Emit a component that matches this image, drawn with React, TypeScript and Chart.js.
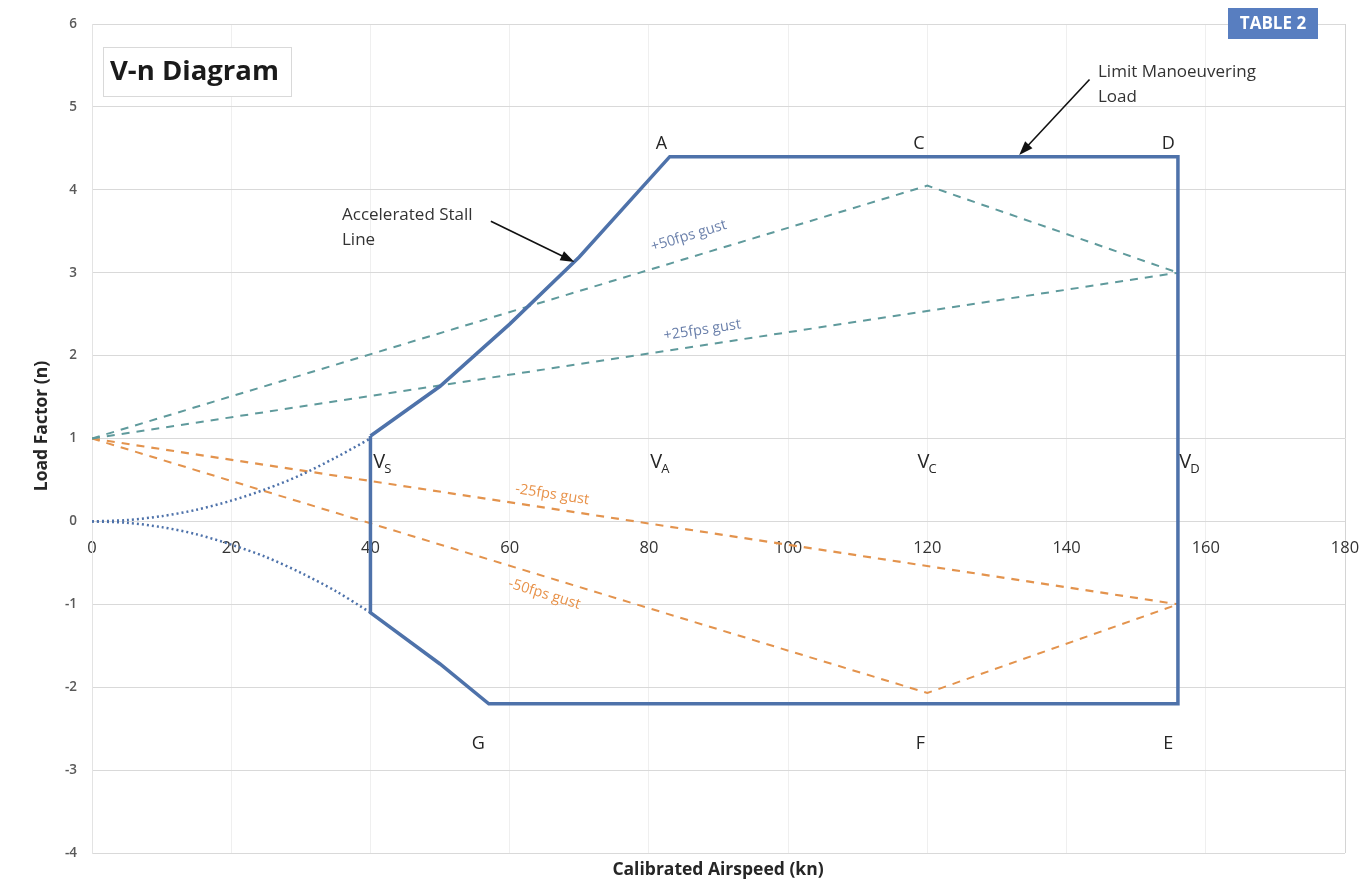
import React, { useEffect, useRef } from "react";
import { Chart, registerables } from "chart.js";

Chart.register(...registerables);

// ---- Axis ticks ----
const xTickValues = [0, 20, 40, 60, 80, 100, 120, 140, 160, 180];
const yTickValues = [-4, -3, -2, -1, 0, 1, 2, 3, 4, 5, 6];

// ---- Flight envelope (solid) ----
const envelopeV = [40, 50, 60, 70, 83, 156, 156, 57, 50, 40, 40];
const envelopeN = [1.03, 1.63, 2.38, 3.19, 4.4, 4.4, -2.2, -2.2, -1.72, -1.1, 1.03];

// ---- Stall curves below Vs (dotted) ----
const stallV = [0, 5, 10, 15, 20, 25, 30, 35, 40];
const stallPosN = [0, 0.016, 0.063, 0.14, 0.25, 0.39, 0.56, 0.77, 1.0];
const stallNegN = [0, -0.017, -0.069, -0.155, -0.28, -0.43, -0.62, -0.84, -1.1];

// ---- Gust lines (dashed) ----
const plus50V = [0, 120, 156];
const plus50N = [1, 4.05, 3.0];
const plus25V = [0, 156];
const plus25N = [1, 3.0];
const minus25V = [0, 156];
const minus25N = [1, -1.0];
const minus50V = [0, 120, 156];
const minus50N = [1, -2.07, -1.0];

// ---- Point letters ----
const letterText = ["A", "C", "D", "G", "F", "E"];
const letterV = [81.8, 118.8, 154.6, 55.5, 119.0, 154.6];
const letterN = [4.56, 4.56, 4.56, -2.68, -2.68, -2.68];

// ---- Speed labels ----
const speedSub = ["S", "A", "C", "D"];
const speedV = [40.4, 80.2, 118.6, 156.2];

const ENVELOPE_COLOR = "#4e72aa";
const GUST_POS_COLOR = "#5f9a9c";
const GUST_NEG_COLOR = "#e3934d";

const pts = (xs: number[], ys: number[]) => xs.map((v, i) => ({ x: v, y: ys[i] }));

const FONT = "'Open Sans', 'Liberation Sans', sans-serif";

export default function App() {
  const ref = useRef<HTMLCanvasElement | null>(null);

  useEffect(() => {
    if (!ref.current) return;

    const overlay = {
      id: "overlay",
      beforeDraw(chart: any) {
        const { ctx } = chart;
        ctx.save();
        ctx.fillStyle = "#ffffff";
        ctx.fillRect(0, 0, chart.width, chart.height);
        ctx.restore();
      },
      afterDraw(chart: any) {
        const { ctx } = chart;
        const xs = chart.scales.x;
        const ys = chart.scales.y;
        const px = (v: number) => xs.getPixelForValue(v);
        const py = (n: number) => ys.getPixelForValue(n);
        ctx.save();

        // gust labels along lines
        const along = (
          text: string,
          v0: number, n0: number, v1: number, n1: number,
          atV: number, offset: number, color: string
        ) => {
          const x0 = px(v0), y0 = py(n0), x1 = px(v1), y1 = py(n1);
          const ang = Math.atan2(y1 - y0, x1 - x0);
          const t = (atV - v0) / (v1 - v0);
          const cx = x0 + (x1 - x0) * t;
          const cy = y0 + (y1 - y0) * t;
          ctx.save();
          ctx.translate(cx, cy);
          ctx.rotate(ang);
          ctx.font = `14.5px ${FONT}`;
          ctx.fillStyle = color;
          ctx.textAlign = "center";
          ctx.textBaseline = "middle";
          ctx.fillText(text, 0, offset);
          ctx.restore();
        };
        along("+50fps gust", 0, 1, 120, 4.05, 86.6, -21, "#6b80ab");
        along("+25fps gust", 0, 1, 156, 3.0, 88.0, -15, "#6b80ab");
        along("-25fps gust", 0, 1, 156, -1.0, 65.8, -14, "#e8924a");
        along("-50fps gust", 0, 1, 120, -2.07, 65.7, 17, "#e8924a");

        // point letters
        ctx.font = `18px ${FONT}`;
        ctx.fillStyle = "#262626";
        ctx.textAlign = "center";
        ctx.textBaseline = "middle";
        letterText.forEach((t, i) => ctx.fillText(t, px(letterV[i]), py(letterN[i])));

        // speed labels V with subscripts
        speedSub.forEach((s, i) => {
          const x0 = px(speedV[i]);
          const y0 = py(0.71);
          ctx.font = `20px ${FONT}`;
          ctx.textAlign = "left";
          ctx.fillStyle = "#262626";
          ctx.fillText("V", x0, y0);
          const w = ctx.measureText("V").width;
          ctx.font = `13px ${FONT}`;
          ctx.fillText(s, x0 + w - 1, y0 + 7);
        });

        // arrows + annotations
        const arrow = (v0: number, n0: number, v1: number, n1: number) => {
          const x0 = px(v0), y0 = py(n0), x1 = px(v1), y1 = py(n1);
          const ang = Math.atan2(y1 - y0, x1 - x0);
          const L = 14, W = 5;
          ctx.strokeStyle = "#111";
          ctx.fillStyle = "#111";
          ctx.lineWidth = 1.6;
          ctx.beginPath();
          ctx.moveTo(x0, y0);
          ctx.lineTo(x1 - Math.cos(ang) * L * 0.8, y1 - Math.sin(ang) * L * 0.8);
          ctx.stroke();
          ctx.beginPath();
          ctx.moveTo(x1, y1);
          ctx.lineTo(x1 - Math.cos(ang) * L - Math.sin(ang) * W, y1 - Math.sin(ang) * L + Math.cos(ang) * W);
          ctx.lineTo(x1 - Math.cos(ang) * L + Math.sin(ang) * W, y1 - Math.sin(ang) * L - Math.cos(ang) * W);
          ctx.closePath();
          ctx.fill();
        };
        ctx.font = `17px ${FONT}`;
        ctx.fillStyle = "#333333";
        ctx.textAlign = "left";
        ctx.textBaseline = "middle";
        ctx.fillText("Accelerated Stall", 342, 215);
        ctx.fillText("Line", 342, 240);
        arrow(57.3, 3.62, 69.3, 3.13);
        ctx.fillStyle = "#333333";
        ctx.font = `17px ${FONT}`;
        ctx.fillText("Limit Manoeuvering", 1098, 72);
        ctx.fillText("Load", 1098, 97);
        arrow(143.3, 5.33, 133.2, 4.42);

        // title box
        ctx.fillStyle = "#ffffff";
        ctx.fillRect(103, 47, 188, 49);
        ctx.strokeStyle = "#d9d9d9";
        ctx.lineWidth = 1;
        ctx.strokeRect(103.5, 47.5, 188, 49);
        ctx.fillStyle = "#1a1a1a";
        ctx.font = `bold 27.5px ${FONT}`;
        ctx.textAlign = "left";
        ctx.textBaseline = "middle";
        ctx.fillText("V-n Diagram", 110, 72);

        // axis titles
        ctx.font = `bold 17.5px ${FONT}`;
        ctx.fillStyle = "#262626";
        ctx.textAlign = "center";
        ctx.fillText("Calibrated Airspeed (kn)", 718, 870);
        ctx.save();
        ctx.translate(42, 426);
        ctx.rotate(-Math.PI / 2);
        ctx.fillText("Load Factor (n)", 0, 0);
        ctx.restore();

        // TABLE 2 badge
        ctx.fillStyle = "#587ec0";
        ctx.fillRect(1228, 8, 90, 31);
        ctx.fillStyle = "#ffffff";
        ctx.font = `bold 17px ${FONT}`;
        ctx.textAlign = "center";
        ctx.fillText("TABLE 2", 1273, 24);

        ctx.restore();
      },
    };

    const chart = new Chart(ref.current, {
      type: "line",
      data: {
        datasets: [
          {
            label: "Envelope",
            data: pts(envelopeV, envelopeN),
            borderColor: ENVELOPE_COLOR,
            borderWidth: 3.5,
            pointRadius: 0,
            borderJoinStyle: "miter",
            tension: 0,
          },
          {
            label: "Stall +",
            data: pts(stallV, stallPosN),
            borderColor: ENVELOPE_COLOR,
            borderWidth: 2.5,
            borderDash: [2, 3],
            pointRadius: 0,
            tension: 0.3,
          },
          {
            label: "Stall -",
            data: pts(stallV, stallNegN),
            borderColor: ENVELOPE_COLOR,
            borderWidth: 2.5,
            borderDash: [2, 3],
            pointRadius: 0,
            tension: 0.3,
          },
          {
            label: "+50fps",
            data: pts(plus50V, plus50N),
            borderColor: GUST_POS_COLOR,
            borderWidth: 2,
            borderDash: [8, 7],
            pointRadius: 0,
          },
          {
            label: "+25fps",
            data: pts(plus25V, plus25N),
            borderColor: GUST_POS_COLOR,
            borderWidth: 2,
            borderDash: [8, 7],
            pointRadius: 0,
          },
          {
            label: "-25fps",
            data: pts(minus25V, minus25N),
            borderColor: GUST_NEG_COLOR,
            borderWidth: 2.2,
            borderDash: [8, 7],
            pointRadius: 0,
          },
          {
            label: "-50fps",
            data: pts(minus50V, minus50N),
            borderColor: GUST_NEG_COLOR,
            borderWidth: 2,
            borderDash: [8, 7],
            pointRadius: 0,
          },
        ],
      },
      options: {
        responsive: false,
        animation: false,
        events: [],
        layout: { padding: { top: 24, bottom: 29, right: 16, left: 0 } },
        plugins: {
          legend: { display: false },
          tooltip: { enabled: false },
          title: { display: false },
        },
        scales: {
          x: {
            type: "linear",
            position: { y: 0 } as any,
            min: 0,
            max: 180,
            afterBuildTicks: (s: any) => {
              s.ticks = xTickValues.map((v) => ({ value: v }));
            },
            afterFit: (s: any) => {
              s.paddingLeft = 0;
              s.paddingRight = 0;
            },
            grid: {
              color: (c: any) => (c.tick && c.tick.value === 180 ? "#d4d4d4" : "#efefef"),
              lineWidth: 1,
              drawTicks: false,
            },
            border: { display: false },
            ticks: {
              padding: 17,
              color: "#333333",
              font: { family: FONT, size: 16.5 },
            },
          },
          y: {
            type: "linear",
            min: -4,
            max: 6,
            afterBuildTicks: (s: any) => {
              s.ticks = yTickValues.map((v) => ({ value: v }));
            },
            afterFit: (s: any) => {
              s.width = 92;
            },
            grid: { color: "#d9d9d9", lineWidth: 1, drawTicks: false },
            border: { display: true, color: "#e3e3e3" },
            ticks: {
              padding: 15,
              color: "#595959",
              font: { family: FONT, size: 13.5, weight: "600" as any },
            },
          },
        },
      },
      plugins: [overlay],
    });

    return () => chart.destroy();
  }, []);

  return (
    <div style={{ position: "absolute", left: 0, top: 0, width: 1361, height: 882, background: "#fff" }}>
      <canvas ref={ref} width={1361} height={882} style={{ display: "block" }} />
    </div>
  );
}
